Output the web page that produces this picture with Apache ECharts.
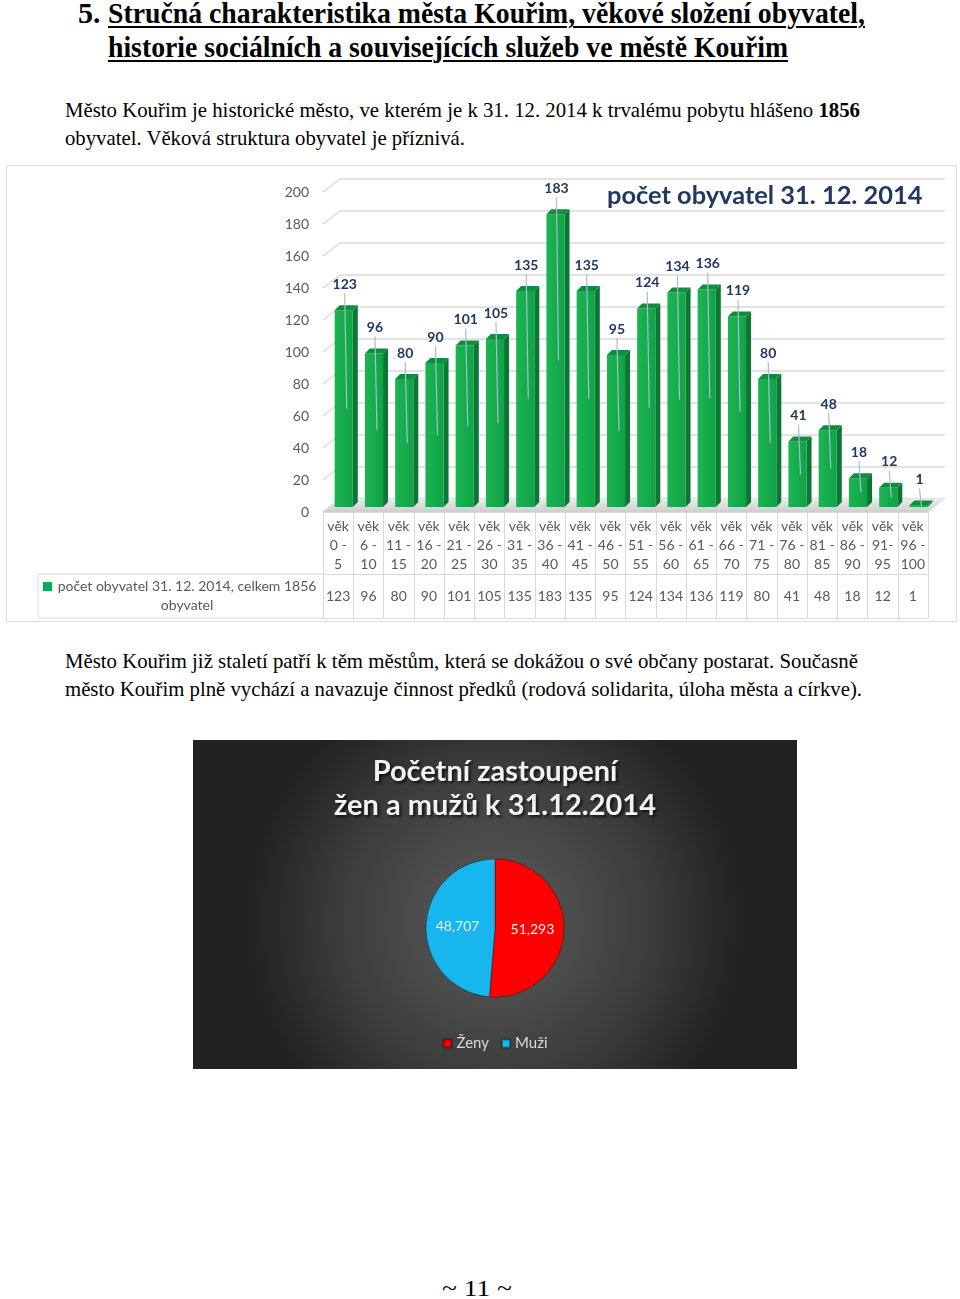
<!DOCTYPE html>
<html><head><meta charset="utf-8">
<script src="https://cdn.jsdelivr.net/npm/echarts@6/dist/echarts.min.js"></script>
<style>
html,body{margin:0;padding:0;background:#fff;}
#page{position:relative;width:960px;height:1299px;overflow:hidden;background:#fff;}
.ln{position:absolute;white-space:nowrap;font-family:"Liberation Serif","Times New Roman",serif;color:#000;transform-origin:0 50%;}
.h{font-weight:bold;font-size:30px;line-height:34px;}
.p{font-size:22px;line-height:28px;}
.u{text-decoration:underline;text-decoration-thickness:2px;text-underline-offset:3px;}
#barBox{position:absolute;left:6px;top:165px;width:951px;height:457px;border:1.5px solid #d9dee5;box-sizing:border-box;}
#bar{position:absolute;left:0;top:160px;width:960px;height:470px;}
#pie{position:absolute;left:193px;top:740px;width:604px;height:329px;}
</style></head>
<body>
<div id="page">
  <div class="ln h" style="left:78px;top:-4px;">5.</div>
  <div class="ln h u" data-w="757" style="left:108px;top:-4px;">Stručná charakteristika města Kouřim, věkové složení obyvatel,</div>
  <div class="ln h u" data-w="680" style="left:108px;top:30px;">historie sociálních a souvisejících služeb ve městě Kouřim</div>
  <div class="ln p" data-w="795" style="left:65px;top:96px;">Město Kouřim je historické město, ve kterém je k 31. 12. 2014 k trvalému pobytu hlášeno <b>1856</b></div>
  <div class="ln p" data-w="400" style="left:65px;top:124px;">obyvatel. Věková struktura obyvatel je příznivá.</div>
  <div id="barBox"></div>
  <div id="bar"></div>
  <div class="ln p" data-w="793" style="left:65px;top:647px;">Město Kouřim již staletí patří k těm městům, která se dokážou o své občany postarat. Současně</div>
  <div class="ln p" data-w="797" style="left:65px;top:675px;">město Kouřim plně vychází a navazuje činnost předků (rodová solidarita, úloha města a církve).</div>
  <div id="pie"></div>
  <div class="ln p" data-w="70" style="left:442px;top:1275px;font-size:23px;">~ 11 ~</div>
</div>
<script>
// ---------- data ----------
const ageGroups = ['věk 0 - 5','věk 6 - 10','věk 11 - 15','věk 16 - 20','věk 21 - 25','věk 26 - 30','věk 31 - 35','věk 36 - 40','věk 41 - 45','věk 46 - 50','věk 51 - 55','věk 56 - 60','věk 61 - 65','věk 66 - 70','věk 71 - 75','věk 76 - 80','věk 81 - 85','věk 86 - 90','věk 91- 95','věk 96 - 100'];
const population = [123,96,80,90,101,105,135,183,135,95,124,134,136,119,80,41,48,18,12,1];
const yTicks = [0,20,40,60,80,100,120,140,160,180,200];
const barTitle = 'počet obyvatel 31. 12. 2014';
const seriesName = 'počet obyvatel 31. 12. 2014, celkem 1856';
const seriesName2 = 'obyvatel';
const pieTitle = 'Početní zastoupení\nžen a mužů k 31.12.2014';
const sexNames = ['Ženy','Muži'];
const sexShares = [51.293, 48.707];

// ---------- fit page text ----------
function fitLines(){
  document.querySelectorAll('[data-w]').forEach(el=>{
    el.style.transform='none';
    const w = el.getBoundingClientRect().width;
    el.style.transform = 'scaleX(' + (+el.dataset.w / w) + ')';
  });
}
fitLines();
if (document.fonts && document.fonts.ready) document.fonts.ready.then(fitLines);

// ---------- bar chart ----------
const FONT = 'Lato, "Open Sans", sans-serif';
const GRAY = '#d9d9d9';
const TXT = '#595959';
const bar = echarts.init(document.getElementById('bar'), null, {renderer:'canvas'});
const wrapCat = s => s.replace(/^věk\s+/, 'věk\n').replace(/-\s*/, '-\n');

bar.setOption({
  animation:false,
  textStyle:{fontFamily:FONT},
  title:{text:barTitle, left:602, top:18, textStyle:{fontFamily:FONT, fontWeight:'bold', fontSize:25.4, color:'#1f3864'}},
  grid:[
    {left:340, top:19, width:605, height:320},
    {left:323, top:27, width:605, height:320},
    {left:323, top:32, width:605, height:320}
  ],
  xAxis:[
    {gridIndex:0, type:'category', data:ageGroups, show:false},
    {gridIndex:1, type:'category', data:ageGroups, show:false},
    {gridIndex:2, type:'category', data:ageGroups, position:'bottom',
      axisLine:{show:true, lineStyle:{color:GRAY, width:1}},
      axisTick:{show:true, length:106, interval:0, lineStyle:{color:GRAY}},
      axisLabel:{interval:0, formatter:wrapCat, fontSize:14, lineHeight:19, color:TXT, margin:5, fontFamily:FONT}},
    {gridIndex:2, type:'category', data:ageGroups, position:'bottom', offset:62,
      axisLine:{show:true, lineStyle:{color:GRAY}}, axisTick:{show:false},
      axisLabel:{interval:0, formatter:(v,i)=>String(population[i]), fontSize:14, color:TXT, margin:15, fontFamily:FONT}},
    {gridIndex:2, type:'category', data:ageGroups, position:'bottom', offset:106,
      axisLine:{show:true, lineStyle:{color:GRAY}}, axisTick:{show:false}, axisLabel:{show:false}}
  ],
  yAxis:[
    {gridIndex:0, type:'value', min:0, max:200, interval:20, axisLabel:{show:false}, axisLine:{show:false}, axisTick:{show:false},
      splitLine:{show:true, lineStyle:{color:GRAY, width:1.5}}},
    {gridIndex:1, type:'value', min:0, max:200, interval:20, show:false, splitLine:{show:false}},
    {gridIndex:2, type:'value', min:0, max:200, interval:20, axisLine:{show:false}, axisTick:{show:false}, splitLine:{show:false},
      axisLabel:{color:TXT, fontSize:14, margin:14, fontFamily:FONT}}
  ],
  graphic:[
    {type:'group', children:[
      {type:'line', shape:{x1:38, y1:414, x2:323, y2:414}, style:{stroke:GRAY, lineWidth:1}},
      {type:'line', shape:{x1:38, y1:458, x2:323, y2:458}, style:{stroke:GRAY, lineWidth:1}},
      {type:'line', shape:{x1:38, y1:414, x2:38, y2:458}, style:{stroke:GRAY, lineWidth:1}},
      {type:'rect', shape:{x:43, y:422, width:9, height:9}, style:{fill:'#00b050'}},
      {type:'text', style:{text:seriesName + '\n' + seriesName2, x:187, y:436, align:'center', verticalAlign:'middle',
        font:'14px ' + FONT, lineHeight:19, fill:TXT}}
    ]}
  ],
  series:[
    { // diagonal wall connectors
      type:'custom', xAxisIndex:0, yAxisIndex:0, silent:true, z:1,
      data:yTicks.map(v=>[0,v]),
      renderItem(params, api){
        const cs = params.coordSys;
        const y = api.coord([0, api.value(1)])[1];
        return {type:'line', shape:{x1:cs.x-17, y1:y+13, x2:cs.x, y2:y}, style:{stroke:GRAY, lineWidth:1.5}};
      }
    },
    { // floor
      type:'custom', xAxisIndex:0, yAxisIndex:0, silent:true, z:1,
      data:[[0,0]],
      renderItem(params, api){
        const cs = params.coordSys;
        const y = api.coord([0,0])[1];
        return {type:'polygon', shape:{points:[[cs.x-17,y+13],[cs.x,y],[cs.x+cs.width,y],[cs.x+cs.width-17,y+13]]},
          style:{fill:new echarts.graphic.LinearGradient(0,0,0,1,[{offset:0,color:'#ececec'},{offset:1,color:'#cdcdcd'}])}};
      }
    },
    { // 3D bars
      type:'custom', name:seriesName, xAxisIndex:1, yAxisIndex:1, z:2,
      itemStyle:{color:'#00b050'},
      encode:{x:0, y:1},
      data:population.map((v,i)=>[i,v]),
      renderItem(params, api){
        const i = api.value(0), v = api.value(1);
        const top = api.coord([i,v]), base = api.coord([i,0]);
        const band = api.size([1,0])[0];
        const W = band*0.6, D = 5, L = top[0] - band*0.115;
        return {type:'group', children:[
          {type:'polygon', shape:{points:[[L+W,top[1]],[L+W+D,top[1]-D],[L+W+D,base[1]-D],[L+W,base[1]]]}, style:{fill:'#0a7832'}},
          {type:'rect', shape:{x:L, y:top[1], width:W, height:base[1]-top[1]},
            style:{fill:new echarts.graphic.LinearGradient(0,0,1,0,[{offset:0,color:'#1cb552'},{offset:1,color:'#0fa345'}])}},
          {type:'polygon', shape:{points:[[L,top[1]],[L+D,top[1]-D],[L+W+D,top[1]-D],[L+W,top[1]]]}, style:{fill:'#0f8d3d'}}
        ]};
      }
    },
    { // value labels with leader lines
      type:'custom', xAxisIndex:1, yAxisIndex:1, z:3, silent:true,
      data:population.map((v,i)=>[i,v]),
      renderItem(params, api){
        const i = api.value(0), v = api.value(1);
        const top = api.coord([i,v]), base = api.coord([i,0]);
        const band = api.size([1,0])[0];
        const cx = top[0] - band*0.115 + band*0.3 + 1;
        const ty = top[1] - 26;
        return {type:'group', children:[
          {type:'line', shape:{x1:cx, y1:ty+9, x2:cx+2, y2:(top[1]+base[1])/2}, style:{stroke:'#a9bcd6', lineWidth:1.2}},
          {type:'text', style:{text:String(v), x:cx, y:ty, align:'center', verticalAlign:'middle', font:'bold 14px ' + FONT, fill:'#1f3864'}}
        ]};
      }
    }
  ]
});

// ---------- pie chart ----------
const pie = echarts.init(document.getElementById('pie'), null, {renderer:'canvas'});
const sexColors = ['#ff0000', '#17b6ef'];
pie.setOption({
  animation:false,
  textStyle:{fontFamily:FONT},
  backgroundColor:{type:'radial', x:0.5, y:0.55, r:0.75, colorStops:[{offset:0,color:'#5c5c5c'},{offset:0.6,color:'#3e3e3e'},{offset:1,color:'#222'}]},
  title:{text:pieTitle, left:'center', top:10, textStyle:{fontFamily:FONT, fontWeight:'bold', fontSize:29, lineHeight:34, color:'#f2f2f2',
    textShadowColor:'rgba(0,0,0,0.7)', textShadowBlur:3, textShadowOffsetX:2, textShadowOffsetY:2}},
  legend:{data:sexNames, left:'center', top:291, icon:'rect', itemWidth:8, itemHeight:8, itemGap:12,
    textStyle:{color:'#d9d9d9', fontSize:15, fontFamily:FONT}},
  series:[{
    type:'pie', center:['50%', 188], radius:69, startAngle:90, clockwise:true,
    itemStyle:{borderColor:'rgba(0,0,0,0.35)', borderWidth:1},
    label:{show:true, position:'inside', color:'#f2f2f2', fontSize:14, fontFamily:FONT,
      formatter:p=>p.value.toFixed(3).replace('.', ',')},
    labelLine:{show:false},
    data:sexNames.map((n,i)=>({name:n, value:sexShares[i], itemStyle:{color:sexColors[i]}}))
  }]
});
</script>
</body></html>
